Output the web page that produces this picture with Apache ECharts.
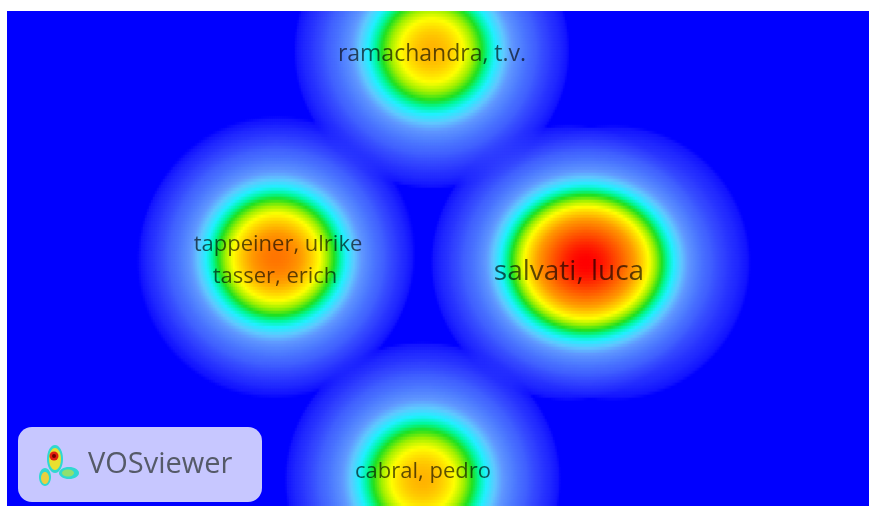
<!DOCTYPE html>
<html><head><meta charset="utf-8">
<script src="https://cdn.jsdelivr.net/npm/echarts@6/dist/echarts.min.js"></script>
<style>html,body{margin:0;padding:0;background:#fff;overflow:hidden}#c{width:869px;height:506px}</style>
</head><body><div id="c"></div>
<script>
// ---- data (map units: 0..mapWidth, 0..mapHeight) ----
const mapWidth = 862, mapHeight = 495;
const nodeLabels = ['ramachandra, t.v.', 'tappeiner, ulrike', 'tasser, erich', 'salvati, luca', '', 'cabral, pedro'];
const nodeX      = [425, 271, 268, 562, 606, 416];
const nodeY      = [40, 243, 250, 252, 252, 469];
const nodeWeight = [0.95, 0.58, 0.58, 1.0, 0.7, 0.95];

// ---- style ----
const labelSize    = [23, 22, 22, 28, 0, 22];
const labelOffsetY = [3, -9, 16, 9, 0, -8];
const kernelWidth = 48, kernelRadius = 138;
// colour stops on the absolute density scale (last stop = density maximum)
const densityStops  = [0, 0.0004, 0.012, 0.035, 0.075, 0.15, 0.22, 0.29, 0.38, 0.46, 0.54, 0.64, 0.75, 0.86, 1.0, 1.14, 1.32];
const densityColors = ['#0000ff','#1010ff','#2028ff','#3040ff','#4060ff','#5080ff','#6098ff','#60c8ff','#20f0ff','#00f8a0','#20e020','#a0f000','#ffff00','#ffd000','#ff9a00','#ff7400','#ff4000','#ff0000'];

function hex(c){return [parseInt(c.substr(1,2),16),parseInt(c.substr(3,2),16),parseInt(c.substr(5,2),16)];}

const nx = 431, ny = 165;
const cw = mapWidth/nx, ch = mapHeight/ny;
const s2 = 2*kernelWidth*kernelWidth;
const cutoff = Math.exp(-kernelRadius*kernelRadius/s2);
const cells=[]; let maxD=0;
for (let j=0;j<ny;j++){
  const cy=(j+0.5)*ch;
  for (let i=0;i<nx;i++){
    const cx=(i+0.5)*cw;
    let d=0;
    for (let n=0;n<nodeX.length;n++){
      const dx=cx-nodeX[n], dy=cy-nodeY[n];
      d+=nodeWeight[n]*Math.max(0, Math.exp(-(dx*dx+dy*dy)/s2)-cutoff);
    }
    if(d>maxD)maxD=d;
    cells.push([i,j,d]);
  }
}
const stops = densityStops.concat([Math.max(maxD, 1.33)]);
function sampleColor(t){
  for (let k=1;k<stops.length;k++){
    if (t<=stops[k]){
      const a=stops[k-1], b=stops[k];
      const f=(t-a)/(b-a||1);
      const c0=hex(densityColors[k-1]), c1=hex(densityColors[k]);
      return 'rgb('+c0.map((v,i)=>Math.round(v+(c1[i]-v)*f)).join(',')+')';
    }
  }
  return densityColors[densityColors.length-1];
}
const palette=[]; for(let k=0;k<=600;k++) palette.push(sampleColor(k/600*maxD));
const xCats=[],yCats=[];
for(let i=0;i<nx;i++)xCats.push(String(i));
for(let j=0;j<ny;j++)yCats.push(String(j));

const labelData=[];
nodeLabels.forEach((l,n)=>{ if(l) labelData.push({name:l,value:[nodeX[n],nodeY[n]],label:{fontSize:labelSize[n],offset:[0,labelOffsetY[n]]}}); });

const chart=echarts.init(document.getElementById('c'),null,{renderer:'canvas'});
const G={left:7,top:11,width:862,height:495};
chart.setOption({
  animation:false,
  backgroundColor:'#0000ff',
  grid:[Object.assign({},G),Object.assign({},G)],
  xAxis:[
    {type:'category',data:xCats,show:false,gridIndex:0},
    {type:'value',min:0,max:mapWidth,show:false,gridIndex:1}
  ],
  yAxis:[
    {type:'category',data:yCats,show:false,inverse:true,gridIndex:0},
    {type:'value',min:0,max:mapHeight,show:false,inverse:true,gridIndex:1}
  ],
  visualMap:{show:false,min:0,max:maxD,dimension:2,seriesIndex:0,inRange:{color:palette}},
  series:[
    {type:'heatmap',xAxisIndex:0,yAxisIndex:0,data:cells,progressive:0,silent:true,itemStyle:{borderWidth:0}},
    {type:'scatter',xAxisIndex:1,yAxisIndex:1,data:labelData,symbolSize:1,silent:true,
     itemStyle:{color:'rgba(0,0,0,0)'},
     label:{show:true,position:'inside',formatter:'{b}',color:'rgba(0,0,0,0.8)',fontFamily:'Open Sans'}}
  ],
  graphic:[
    {type:'rect',z:99,shape:{x:0,y:0,width:869,height:11},style:{fill:'#ffffff'}},
    {type:'rect',z:99,shape:{x:0,y:0,width:7,height:506},style:{fill:'#ffffff'}},
    {type:'rect',z:100,shape:{x:18,y:427,width:244,height:75,r:14},style:{fill:'rgba(255,255,255,0.78)'}},
    {type:'ellipse',z:101,shape:{cx:55,cy:459,rx:8,ry:14},style:{fill:'#30d8d0'}},
    {type:'ellipse',z:102,shape:{cx:55,cy:459,rx:6,ry:11},style:{fill:'#e8e030'}},
    {type:'circle',z:103,shape:{cx:54,cy:456,r:4.5},style:{fill:'#e02010'}},
    {type:'circle',z:104,shape:{cx:54,cy:456,r:2},style:{fill:'#700000'}},
    {type:'ellipse',z:101,shape:{cx:45,cy:477,rx:6,ry:9},style:{fill:'#30d8d0'}},
    {type:'ellipse',z:102,shape:{cx:45,cy:478,rx:4,ry:6},style:{fill:'#e8d040'}},
    {type:'ellipse',z:101,shape:{cx:69,cy:473,rx:10,ry:6},style:{fill:'#30d8d0'}},
    {type:'ellipse',z:102,shape:{cx:68,cy:473,rx:6,ry:3.5},style:{fill:'#90e070'}},
    {type:'text',z:105,x:88,y:465,style:{text:'VOSviewer',fontSize:29,fontFamily:'Open Sans',fill:'#555a68',verticalAlign:'middle',align:'left'}}
  ]
});
</script></body></html>
